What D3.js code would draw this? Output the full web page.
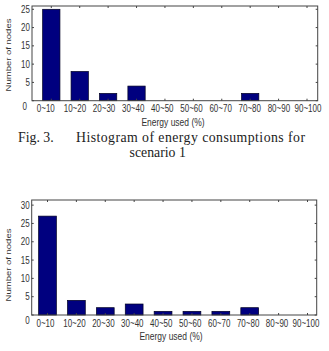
<!DOCTYPE html>
<html>
<head>
<meta charset="utf-8">
<script src="https://cdn.jsdelivr.net/npm/d3@7"></script>
<style>
  html, body { margin: 0; padding: 0; background: #fff; }
  svg { display: block; }
</style>
</head>
<body>
<svg id="chart" width="329" height="351"></svg>
<script>
// categories and counts
var categories = ["0~10", "10~20", "20~30", "30~40", "40~50", "50~60", "60~70", "70~80", "80~90", "90~100"];
var nodesScenario1 = [25, 8, 2, 4, 0, 0, 0, 2, 0, 0];
var nodesScenario2 = [27, 4, 2, 3, 1, 1, 1, 2, 0, 0];
var yTicks1 = [0, 5, 10, 15, 20, 25];
var yTicks2 = [0, 5, 10, 15, 20, 25, 30];
var xTitle = "Energy used (%)";
var yTitle = "Number of nodes";

var svg = d3.select("#chart");
var barColor = "#00007f";
var inkColor = "#333";
var squeeze = 0.8; // labels in the scan look narrow

// Draws one MATLAB style bar panel
function drawPanel(values, ticks, p){
    var g = svg.append("g");

    var yRange = d3.scaleLinear()
        .domain([0, p.yMax])
        .range([p.bottom, p.top]);
    var xBars = d3.scalePoint()
        .domain(categories)
        .range([p.barStart, p.barEnd]);
    var xLabels = d3.scalePoint()
        .domain(categories)
        .range([p.labStart, p.labEnd]);

    // bars
    g.selectAll("rect.bar")
        .data(values.map(function(v, i){ return {c: categories[i], v: v}; }).filter(function(d){ return d.v > 0; }))
        .enter().append("rect")
        .attr("class", "bar")
        .attr("x", function(d){ return xBars(d.c) - p.barWidth/2; })
        .attr("y", function(d){ return yRange(d.v); })
        .attr("width", p.barWidth)
        .attr("height", function(d){ return yRange(0) - yRange(d.v); })
        .attr("fill", barColor)
        .attr("stroke", "#000022")
        .attr("stroke-width", 0.7);

    // box
    g.append("rect")
        .attr("x", p.left).attr("y", p.top)
        .attr("width", p.right - p.left).attr("height", p.bottom - p.top)
        .attr("fill", "none")
        .attr("stroke", "#444")
        .attr("stroke-width", 1);

    // inward tick marks on all four sides
    var tickLen = 2;
    var marks = g.append("g").attr("stroke", "#444").attr("stroke-width", 1);
    categories.forEach(function(c){
        var x = xBars(c);
        marks.append("line").attr("x1", x).attr("x2", x).attr("y1", p.bottom).attr("y2", p.bottom - tickLen);
        marks.append("line").attr("x1", x).attr("x2", x).attr("y1", p.top).attr("y2", p.top + tickLen);
    });
    ticks.forEach(function(t){
        var y = yRange(t);
        marks.append("line").attr("x1", p.left).attr("x2", p.left + tickLen).attr("y1", y).attr("y2", y);
        marks.append("line").attr("x1", p.right).attr("x2", p.right - tickLen).attr("y1", y).attr("y2", y);
    });

    // y tick labels (the 0 sits a bit lower in the scan)
    g.selectAll("text.ytick")
        .data(ticks)
        .enter().append("text")
        .attr("class", "ytick")
        .attr("text-anchor", "end")
        .attr("font-family", "Liberation Sans, Arial, sans-serif")
        .attr("font-size", "10px")
        .attr("fill", inkColor)
        .attr("transform", function(d){
            var y = yRange(d) + (d === 0 ? p.zeroDy : 0);
            var x = p.left - 2 + (d === 0 ? p.zeroDx : 0);
            return "translate(" + x + "," + y + ") scale(" + squeeze + ",1)";
        })
        .attr("dy", "0.35em")
        .text(function(d){ return d; });

    // x tick labels
    g.selectAll("text.xtick")
        .data(categories)
        .enter().append("text")
        .attr("class", "xtick")
        .attr("text-anchor", "middle")
        .attr("font-family", "Liberation Sans, Arial, sans-serif")
        .attr("font-size", "10px")
        .attr("fill", inkColor)
        .attr("transform", function(d){
            return "translate(" + xLabels(d) + "," + p.xTickY + ") scale(" + squeeze + ",1)";
        })
        .text(function(d){ return d; });

    // axis titles
    g.append("text")
        .attr("text-anchor", "middle")
        .attr("font-family", "Liberation Sans, Arial, sans-serif")
        .attr("font-size", "10px")
        .attr("fill", inkColor)
        .attr("transform", "translate(" + p.xTitleX + "," + p.xTitleY + ") scale(0.85,1)")
        .text(xTitle);

    g.append("text")
        .attr("text-anchor", "middle")
        .attr("font-family", "Liberation Sans, Arial, sans-serif")
        .attr("font-size", "9.5px")
        .attr("fill", inkColor)
        .attr("transform", "translate(" + p.yTitleX + "," + p.yTitleY + ") rotate(-90) scale(1," + squeeze + ")")
        .text(yTitle);
}

drawPanel(nodesScenario1, yTicks1, {
    top: 6, bottom: 100.7, left: 32, right: 317.7, yMax: 25.9,
    barStart: 51.3, barEnd: 307, barWidth: 17.3,
    labStart: 45.8, labEnd: 308,
    zeroDx: -3, zeroDy: 5.5,
    xTickY: 111.5, xTitleX: 173, xTitleY: 126,
    yTitleX: 10.5, yTitleY: 55
});

drawPanel(nodesScenario2, yTicks2, {
    top: 200, bottom: 315, left: 31.7, right: 316.7, yMax: 31.4,
    barStart: 47.5, barEnd: 307.5, barWidth: 17.8,
    labStart: 45.5, labEnd: 306,
    zeroDx: 0, zeroDy: 5,
    xTickY: 326.5, xTitleX: 171, xTitleY: 340,
    yTitleX: 10.5, yTitleY: 265
});

// figure caption between the panels
var caption = svg.append("g")
    .attr("font-family", "Liberation Serif, Times New Roman, serif")
    .attr("font-size", "13.8px")
    .attr("fill", "#222");
caption.append("text").attr("x", 18).attr("y", 141.5).text("Fig. 3.");
caption.append("text").attr("x", 76).attr("y", 141.5)
    .attr("textLength", 229).attr("lengthAdjust", "spacing")
    .text("Histogram of energy consumptions for");
caption.append("text").attr("x", 157.7).attr("y", 157).attr("text-anchor", "middle").text("scenario 1");
</script>
</body>
</html>
